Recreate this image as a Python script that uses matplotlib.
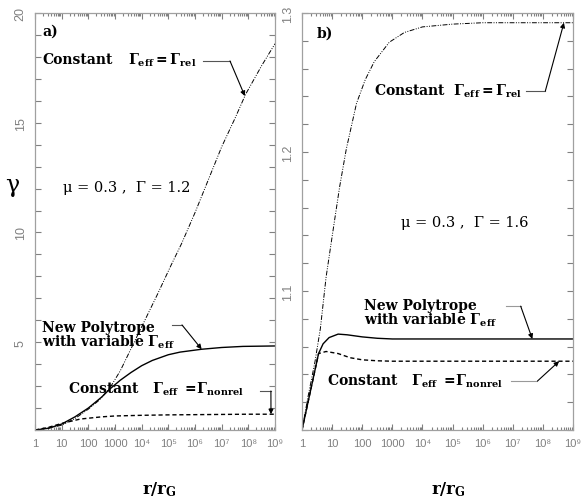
import numpy as np
import matplotlib
matplotlib.use('Agg')
import matplotlib.pyplot as plt
from matplotlib.ticker import FixedLocator, MultipleLocator, LogLocator, NullFormatter

plt.rcParams['mathtext.fontset'] = 'dejavuserif'

# panel a) mu=0.3, Gamma=1.2   (log10 r/rG, gamma)
a_rel_logr = [0, 0.5, 1, 1.5, 2, 2.4, 2.8, 3.2, 3.7, 4.2, 4.6, 5.1, 5.5, 6.0, 6.5, 7.0, 7.5, 7.9, 8.5, 9]
a_rel_g = [1.0, 1.08, 1.22, 1.52, 1.95, 2.35, 2.9, 3.7, 4.95, 6.2, 7.2, 8.5, 9.5, 10.9, 12.4, 13.9, 15.2, 16.3, 17.6, 18.6]
a_poly_logr = [0, 0.5, 1, 1.5, 2, 2.5, 2.8, 3.2, 3.6, 4.0, 4.4, 5.0, 5.44, 6.25, 7.0, 7.8, 9]
a_poly_g = [1.0, 1.08, 1.27, 1.6, 2.0, 2.5, 2.86, 3.27, 3.62, 3.93, 4.17, 4.43, 4.55, 4.68, 4.76, 4.81, 4.83]
a_nonrel_logr = [0, 0.5, 1, 1.7, 2.5, 3, 4, 5, 6, 7, 8, 9]
a_nonrel_g = [1.0, 1.12, 1.3, 1.5, 1.6, 1.64, 1.67, 1.69, 1.7, 1.71, 1.72, 1.72]

# panel b) mu=0.3, Gamma=1.6
b_rel_logr = [0, 0.2, 0.43, 0.61, 0.8, 1.02, 1.25, 1.47, 1.81, 2.1, 2.4, 2.9, 3.4, 4, 5, 6, 7, 9]
b_rel_g = [1.0, 1.024, 1.049, 1.073, 1.11, 1.142, 1.175, 1.202, 1.235, 1.252, 1.265, 1.279, 1.286, 1.29, 1.292, 1.293, 1.293, 1.293]
b_poly_logr = [0, 0.2, 0.4, 0.55, 0.7, 0.9, 1.2, 1.5, 2, 2.5, 3, 9]
b_poly_g = [1.0, 1.02, 1.04, 1.055, 1.062, 1.0665, 1.069, 1.0685, 1.067, 1.066, 1.0655, 1.0655]
b_nonrel_logr = [0, 0.2, 0.4, 0.55, 0.8, 1.2, 1.6, 2, 2.5, 3, 9]
b_nonrel_g = [1.0, 1.02, 1.04, 1.055, 1.0565, 1.055, 1.052, 1.0505, 1.0498, 1.0495, 1.0495]

xtick_labels = ['1', '10', '100', '1000', '10\u2074', '10\u2075', '10\u2076', '10\u2077', '10\u2078', '10\u2079']

xtickfont = dict(family=['Liberation Sans', 'DejaVu Sans'], size=8)
ytickfont = dict(family=['Liberation Sans', 'DejaVu Sans'], size=9)
gray = '#808080'
serif = 'DejaVu Serif'
dashdot = (0, (5, 1.5, 1, 1.5, 1, 1.5))
dashed = (0, (3, 2))


def style_axes(ax, ylim, ymajor, yminor, ylabels):
    ax.set_xscale('log')
    ax.set_xlim(1, 1e9)
    ax.set_ylim(*ylim)
    ax.xaxis.set_major_locator(FixedLocator([10.0 ** k for k in range(10)]))
    ax.xaxis.set_minor_locator(LogLocator(base=10, subs=np.arange(2, 10), numticks=20))
    ax.xaxis.set_minor_formatter(NullFormatter())
    ax.set_xticklabels(xtick_labels, fontdict=xtickfont, color=gray)
    ax.yaxis.set_major_locator(FixedLocator(ymajor))
    ax.yaxis.set_minor_locator(MultipleLocator(yminor))
    ax.set_yticklabels(ylabels, fontdict=ytickfont, color=gray, rotation=90, va='center')
    ax.tick_params(which='both', direction='in', top=True, right=True, color=gray, width=0.8)
    ax.tick_params(which='major', length=4.5, pad=6)
    ax.tick_params(which='minor', length=2.5)
    ax.tick_params(axis='y', which='minor', length=4)
    for s in ax.spines.values():
        s.set_color('#a0a0a0')
        s.set_linewidth(0.9)


def leader(ax, x0, x1, y, logr_tip, xs, ys, color='#555555'):
    ax.plot([x0, x1], [y, y], transform=ax.transAxes, color=color, lw=0.8, clip_on=False)
    yt = np.interp(logr_tip, xs, ys)
    ax.annotate('', xy=(10 ** logr_tip, yt), xycoords='data',
                xytext=(x1, y), textcoords='axes fraction',
                arrowprops=dict(arrowstyle='-|>', color='black', lw=0.8,
                                mutation_scale=7, shrinkA=0, shrinkB=0))


fig = plt.figure(figsize=(5.81, 5.02), dpi=100)
axa = fig.add_axes([0.0602, 0.1414, 0.4131, 0.8307])
axb = fig.add_axes([0.5198, 0.1414, 0.4664, 0.8307])

r = lambda v: 10 ** np.array(v)

# ---- panel a
axa.plot(r(a_rel_logr), a_rel_g, color='black', lw=0.7, ls=dashdot)
axa.plot(r(a_poly_logr), a_poly_g, color='black', lw=1.0)
axa.plot(r(a_nonrel_logr), a_nonrel_g, color='black', lw=1.0, ls=dashed)
style_axes(axa, (1, 20), [5, 10, 15, 20], 1, ['5', '10', '15', '20'])

tb = dict(fontfamily=serif, fontweight='bold', fontsize=10, va='center', ha='left')
tn = dict(fontfamily=serif, fontsize=10.5, va='center', ha='left')
axa.text(0.029, 0.957, 'a)', transform=axa.transAxes, **tb)
axa.text(0.029, 0.89, 'Constant', transform=axa.transAxes, **tb)
axa.text(0.3875, 0.89, r'$\mathbf{\Gamma_{eff}=\Gamma_{rel}}$', transform=axa.transAxes, **tb)
leader(axa, 0.70, 0.8125, 0.885, 7.87, a_rel_logr, a_rel_g)
axa.text(0.117, 0.583, '\u03bc = 0.3 ,  \u0393 = 1.2', transform=axa.transAxes, **tn)
axa.text(0.029, 0.228, 'New Polytrope\n' + r'with variable $\mathbf{\Gamma_{eff}}$',
         transform=axa.transAxes, linespacing=0.9, **tb)
leader(axa, 0.571, 0.6125, 0.252, 6.25, a_poly_logr, a_poly_g)
axa.text(0.1375, 0.10, r'Constant   $\mathbf{\Gamma_{eff}\ =\!\Gamma_{nonrel}}$', transform=axa.transAxes, **tb)
leader(axa, 0.9375, 0.983, 0.0935, 8.85, a_nonrel_logr, a_nonrel_g)

# ---- panel b
axb.plot(r(b_rel_logr), b_rel_g, color='black', lw=0.7, ls=dashdot)
axb.plot(r(b_poly_logr), b_poly_g, color='black', lw=1.0)
axb.plot(r(b_nonrel_logr), b_nonrel_g, color='black', lw=1.0, ls=dashed)
style_axes(axb, (1.0, 1.3), [1.1, 1.2, 1.3], 0.02, ['1.1', '1.2', '1.3'])

axb.text(0.055, 0.954, 'b)', transform=axb.transAxes, **tb)
axb.text(0.266, 0.815, r'Constant  $\mathbf{\Gamma_{eff}=\Gamma_{rel}}$', transform=axb.transAxes, **tb)
leader(axb, 0.825, 0.898, 0.813, 8.7, b_rel_logr, b_rel_g)
axb.text(0.365, 0.499, '\u03bc = 0.3 ,  \u0393 = 1.6', transform=axb.transAxes, **tn)
axb.text(0.23, 0.281, 'New Polytrope\n' + r'with variable $\mathbf{\Gamma_{eff}}$',
         transform=axb.transAxes, linespacing=0.9, **tb)
leader(axb, 0.752, 0.807, 0.297, 7.65, b_poly_logr, b_poly_g, color='#999999')
axb.text(0.091, 0.12, r'Constant   $\mathbf{\Gamma_{eff}\ =\!\Gamma_{nonrel}}$', transform=axb.transAxes, **tb)
leader(axb, 0.77, 0.869, 0.1175, 8.54, b_nonrel_logr, b_nonrel_g, color='#999999')

# axis labels
fig.text(0.008, 0.63, '\u03b3', fontfamily=serif, fontsize=17, ha='left', va='center')
fig.text(0.274, 0.024, r'$\mathbf{r/r_G}$', fontsize=12, ha='center', va='center')
fig.text(0.772, 0.024, r'$\mathbf{r/r_G}$', fontsize=12, ha='center', va='center')

fig.savefig('out.png', dpi=100)
